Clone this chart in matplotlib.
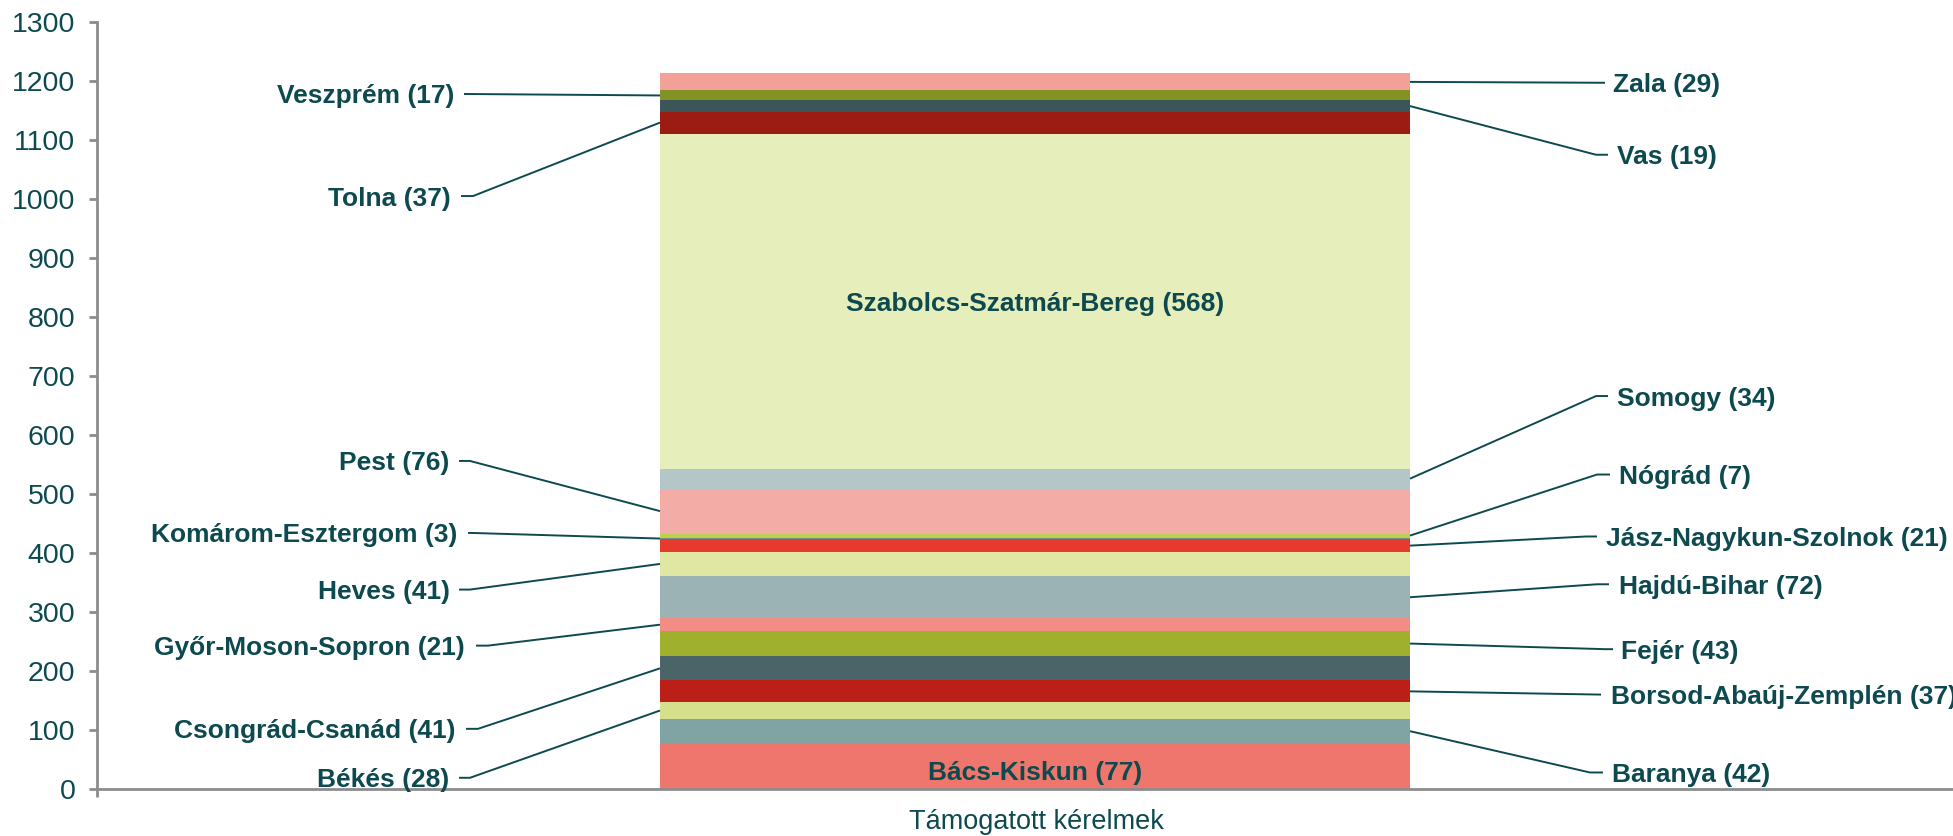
import matplotlib
matplotlib.use("Agg")
import matplotlib.pyplot as plt

plt.rcParams['font.family'] = ['Liberation Sans', 'DejaVu Sans']

# ---- data ----
counties = ["Bács-Kiskun", "Baranya", "Békés", "Borsod-Abaúj-Zemplén", "Csongrád-Csanád",
            "Fejér", "Győr-Moson-Sopron", "Hajdú-Bihar", "Heves", "Jász-Nagykun-Szolnok",
            "Komárom-Esztergom", "Nógrád", "Pest", "Somogy", "Szabolcs-Szatmár-Bereg",
            "Tolna", "Vas", "Veszprém", "Zala"]
values = [77, 42, 28, 37, 41, 43, 21, 72, 41, 21, 3, 7, 76, 34, 568, 37, 19, 17, 29]
category = "Támogatott kérelmek"
y_ticks = list(range(0, 1301, 100))

# ---- styles ----
colors = ["#EF766C", "#80A3A4", "#D6E08C", "#BB1F18", "#4A6467",
          "#9FAF2E", "#F28D86", "#9BB3B5", "#DFE7A2", "#E63A2F",
          "#6A8E90", "#BCD04C", "#F3ACA6", "#B4C6C7", "#E6EEBB",
          "#9C1B13", "#3B5558", "#839225", "#F3A098"]
TXT = "#0D4A4F"
AXC = "#8C8C8C"

# label layout: (side, label_y, text_x_px, line_start_px, elbow_px)
layout = {
    "Veszprém": ("L", 1178, 454, 464, 464),
    "Tolna": ("L", 1005, 451, 461, 473),
    "Pest": ("L", 556, 449, 459, 470),
    "Komárom-Esztergom": ("L", 434, 457, 468, 472),
    "Heves": ("L", 338, 450, 459, 470),
    "Győr-Moson-Sopron": ("L", 243, 465, 476, 488),
    "Csongrád-Csanád": ("L", 102, 455, 466, 478),
    "Békés": ("L", 19, 449, 459, 470),
    "Zala": ("R", 1197, 1613, 1605, 1605),
    "Vas": ("R", 1075, 1617, 1608, 1596),
    "Somogy": ("R", 666, 1617, 1608, 1596),
    "Nógrád": ("R", 533, 1619, 1610, 1597),
    "Jász-Nagykun-Szolnok": ("R", 428, 1606, 1597, 1586),
    "Hajdú-Bihar": ("R", 347, 1619, 1609, 1597),
    "Fejér": ("R", 237, 1621, 1613, 1605),
    "Borsod-Abaúj-Zemplén": ("R", 160, 1611, 1601, 1601),
    "Baranya": ("R", 28, 1612, 1603, 1590),
}
inside_y = {"Szabolcs-Szatmár-Bereg": 827, "Bács-Kiskun": 32}

W, H = 1953, 836
fig = plt.figure(figsize=(W / 100, H / 100), dpi=100)
ax_left = 97
ax_right = 1973  # plot area extends beyond the image
y0_px, y1300_px = 789, 22
ax = fig.add_axes([ax_left / W, (H - y0_px) / H, (ax_right - ax_left) / W, (y0_px - y1300_px) / H])
ax.set_xlim(-0.5, 0.5)
ax.set_ylim(0, 1300)

def px2x(px):
    return -0.5 + (px - ax_left) / (ax_right - ax_left)

bar_w = 750 / (ax_right - ax_left)
bottoms = []
b = 0
for v in values:
    bottoms.append(b)
    b += v
for v, bt, c in zip(values, bottoms, colors):
    ax.bar(0, v, bottom=bt, width=bar_w, color=c, edgecolor='none', zorder=2)

left_edge = -bar_w / 2
right_edge = bar_w / 2

fs_lab = 19
for name, v, bt in zip(counties, values, bottoms):
    mid = bt + v / 2
    txt = f"{name} ({v})"
    if name in inside_y:
        ax.text(0, inside_y[name], txt, ha='center', va='center_baseline', fontsize=fs_lab,
                fontweight='bold', color=TXT, zorder=4)
        continue
    side, ly, tx, ls, el = layout[name]
    if side == "L":
        ax.plot([px2x(ls), px2x(el), left_edge], [ly, ly, mid], color=TXT, lw=1.4,
                zorder=3, clip_on=False, solid_capstyle='butt')
        ax.text(px2x(tx), ly, txt, ha='right', va='center_baseline', fontsize=fs_lab,
                fontweight='bold', color=TXT)
    else:
        ax.plot([px2x(ls), px2x(el), right_edge], [ly, ly, mid], color=TXT, lw=1.4,
                zorder=3, clip_on=False, solid_capstyle='butt')
        ax.text(px2x(tx), ly, txt, ha='left', va='center_baseline', fontsize=fs_lab,
                fontweight='bold', color=TXT)

for s in ['top', 'right']:
    ax.spines[s].set_visible(False)
for s in ['left', 'bottom']:
    ax.spines[s].set_color(AXC)
    ax.spines[s].set_linewidth(2)

ax.set_yticks(y_ticks)
ax.set_yticklabels([str(t) for t in y_ticks])
ax.tick_params(axis='y', direction='out', length=5.5, width=2, color=AXC,
               labelsize=20.5, labelcolor=TXT, pad=10)
ax.set_xticks([-0.5])
ax.set_xticklabels([""])
ax.tick_params(axis='x', direction='out', length=6, width=2, color=AXC)

fig.text(1036 / W, 1 - 822 / H, category, ha='center', va='center', fontsize=19.5, color=TXT)

fig.savefig("out.png", dpi=100)
